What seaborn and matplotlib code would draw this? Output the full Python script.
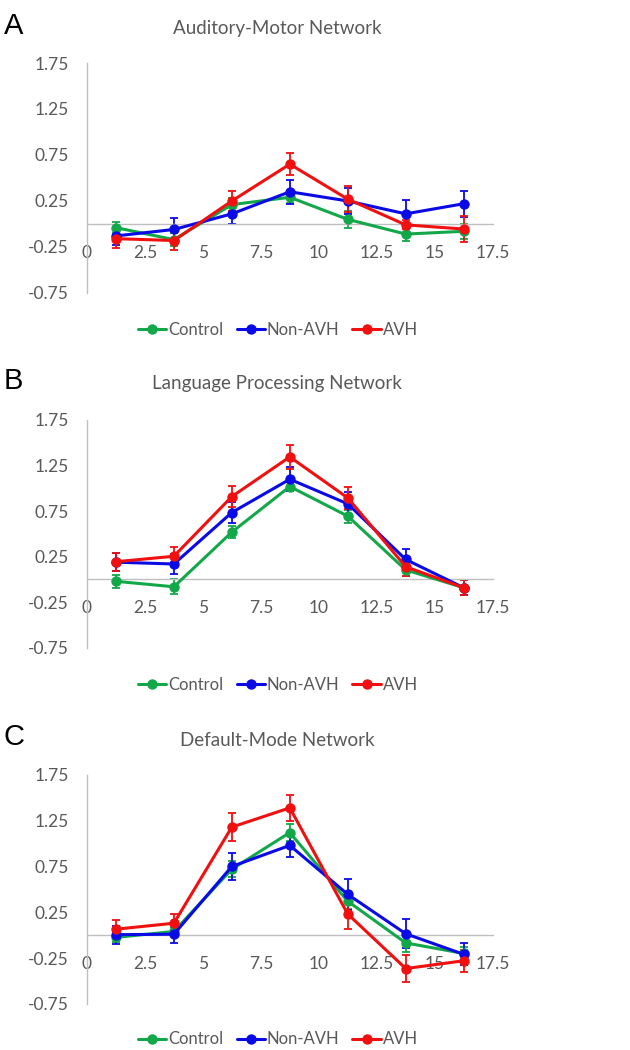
import pandas as pd
import matplotlib
matplotlib.use("Agg")
import matplotlib.pyplot as plt
import seaborn as sns

# time points (x) shared by all panels
x_vals = [1.25, 3.75, 6.25, 8.75, 11.25, 13.75, 16.25]
groups = ["Control", "Non-AVH", "AVH"]
colors = {"Control": "#12a84a", "Non-AVH": "#0a0ae6", "AVH": "#f01010"}

# --- A. Auditory-Motor ---
am_control = [-0.04, -0.17, 0.21, 0.29, 0.05, -0.11, -0.08]
am_control_err = [0.06, 0.07, 0.07, 0.06, 0.09, 0.07, 0.08]
am_nonavh = [-0.13, -0.06, 0.11, 0.35, 0.25, 0.11, 0.22]
am_nonavh_err = [0.10, 0.12, 0.11, 0.13, 0.14, 0.15, 0.14]
am_avh = [-0.16, -0.18, 0.25, 0.65, 0.27, -0.01, -0.055]
am_avh_err = [0.10, 0.10, 0.11, 0.12, 0.14, 0.05, 0.14]

# --- B. Language Processing ---
lp_control = [-0.02, -0.08, 0.52, 1.02, 0.695, 0.105, -0.09]
lp_control_err = [0.07, 0.08, 0.07, 0.05, 0.07, 0.07, 0.08]
lp_nonavh = [0.19, 0.17, 0.735, 1.10, 0.83, 0.22, -0.09]
lp_nonavh_err = [0.10, 0.11, 0.12, 0.13, 0.13, 0.11, 0.08]
lp_avh = [0.195, 0.255, 0.91, 1.345, 0.895, 0.14, -0.09]
lp_avh_err = [0.10, 0.10, 0.12, 0.13, 0.12, 0.10, 0.08]

# --- C. Default-Mode ---
dm_control = [-0.025, 0.04, 0.72, 1.12, 0.37, -0.085, -0.20]
dm_control_err = [0.05, 0.05, 0.09, 0.09, 0.09, 0.10, 0.07]
dm_nonavh = [0.005, 0.01, 0.75, 0.98, 0.445, 0.015, -0.21]
dm_nonavh_err = [0.10, 0.10, 0.15, 0.13, 0.17, 0.16, 0.12]
dm_avh = [0.065, 0.13, 1.18, 1.39, 0.23, -0.365, -0.28]
dm_avh_err = [0.10, 0.10, 0.15, 0.14, 0.16, 0.15, 0.12]

panels = [
    ("A", "Auditory-Motor Network", [am_control, am_nonavh, am_avh], [am_control_err, am_nonavh_err, am_avh_err]),
    ("B", "Language Processing Network", [lp_control, lp_nonavh, lp_avh], [lp_control_err, lp_nonavh_err, lp_avh_err]),
    ("C", "Default-Mode Network", [dm_control, dm_nonavh, dm_avh], [dm_control_err, dm_nonavh_err, dm_avh_err]),
]

y_ticks = [-0.75, -0.25, 0.25, 0.75, 1.25, 1.75]
x_ticks = [0, 2.5, 5, 7.5, 10, 12.5, 15, 17.5]

sns.set_style("white")
plt.rcParams["font.family"] = ["Lato", "DejaVu Sans"]
text_gray = "#595959"
axis_gray = "#bfbfbf"

fig = plt.figure(figsize=(6.3, 10.5), dpi=100)

# axes boxes (left, bottom, width, height) and label positions in figure coords
boxes = [(0.138, 0.721, 0.644, 0.219), (0.138, 0.383, 0.644, 0.217), (0.138, 0.044, 0.644, 0.218)]
title_y = [0.973, 0.635, 0.295]
letter_y = [0.975, 0.637, 0.298]
legend_y = [0.686, 0.348, 0.010]

for i, (letter, title, means, errs) in enumerate(panels):
    ax = fig.add_axes(boxes[i])
    rows = []
    for g, m in zip(groups, means):
        for xv, yv in zip(x_vals, m):
            rows.append({"x": xv, "y": yv, "group": g})
    df = pd.DataFrame(rows)

    for g, m, e in zip(groups, means, errs):
        ax.errorbar(x_vals, m, yerr=e, fmt="none", ecolor=colors[g], elinewidth=1.3,
                    capsize=3, capthick=1.3, zorder=2)

    sns.lineplot(data=df, x="x", y="y", hue="group", hue_order=groups, palette=colors,
                 marker="o", markersize=7.5, markeredgewidth=0, linewidth=2.2, ax=ax, zorder=3)

    ax.set_xlim(0, 17.5)
    ax.set_ylim(-0.75, 1.75)
    ax.set_xticks(x_ticks)
    ax.set_xticklabels(["0", "2.5", "5", "7.5", "10", "12.5", "15", "17.5"])
    ax.set_yticks(y_ticks)
    ax.set_yticklabels(["-0.75", "-0.25", "0.25", "0.75", "1.25", "1.75"])
    ax.set_xlabel("")
    ax.set_ylabel("")

    ax.spines["top"].set_visible(False)
    ax.spines["right"].set_visible(False)
    ax.spines["bottom"].set_position(("data", 0))
    for s in ["left", "bottom"]:
        ax.spines[s].set_color(axis_gray)
        ax.spines[s].set_linewidth(1.0)
    ax.tick_params(axis="both", colors=axis_gray, labelcolor=text_gray, labelsize=12.5,
                   length=5, width=1.0, direction="out")
    ax.tick_params(axis="x", pad=10)
    ax.tick_params(axis="y", pad=8)

    sns.move_legend(ax, "center", bbox_to_anchor=(0.441, legend_y[i]), bbox_transform=fig.transFigure,
                    ncol=3, frameon=False, title=None, fontsize=12, handlelength=1.7,
                    handletextpad=0.1, columnspacing=0.8)
    for t in ax.get_legend().get_texts():
        t.set_color(text_gray)

    fig.text(0.44, title_y[i], title, ha="center", va="center", fontsize=13.5, color=text_gray)
    fig.text(0.006, letter_y[i], letter, ha="left", va="center", fontsize=21, color="black",
             family=["Liberation Sans", "DejaVu Sans"])

plt.savefig("out.png", dpi=100)
